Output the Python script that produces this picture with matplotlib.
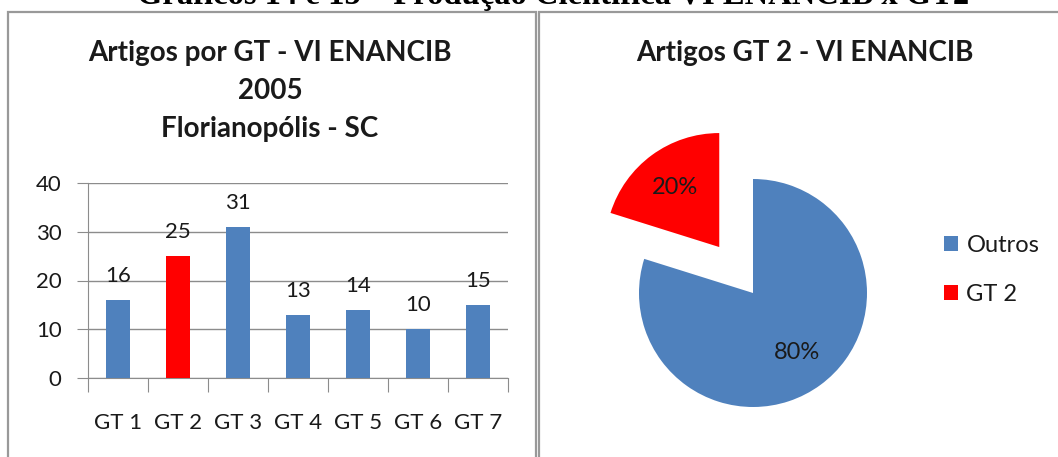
import matplotlib.pyplot as plt
from matplotlib.patches import Rectangle

# data
grupos = ["GT 1", "GT 2", "GT 3", "GT 4", "GT 5", "GT 6", "GT 7"]
artigos = [16, 25, 31, 13, 14, 10, 15]
pie_labels = ["Outros", "GT 2"]
pie_values = [99, 25]

BLUE = "#4f81bd"
RED = "#ff0000"
GRID = "#8c8c8c"
FONT = "Lato"

W, H = 1058, 457
fig = plt.figure(figsize=(W / 100, H / 100), dpi=100)


def px_axes(x0, y0, x1, y1):
    # pixel box (top-left origin) -> figure axes
    return fig.add_axes([x0 / W, 1 - y1 / H, (x1 - x0) / W, (y1 - y0) / H])


# panel borders (grey frames)
for (x0, x1) in [(8, 536), (539, 1070)]:
    fig.patches.append(Rectangle((x0 / W, -0.05), (x1 - x0) / W, 1 - 11.5 / H + 0.05,
                                 transform=fig.transFigure, fill=False,
                                 edgecolor="#999999", linewidth=1.6))

# top caption, cut off by the page edge
fig.text(553 / W, 1 - 4 / H, "Gráficos 14 e 15 – Produção Científica VI ENANCIB x GT2",
         ha="center", va="baseline", fontsize=23.5, fontweight="bold",
         family="Liberation Serif")

# bar chart
ax = px_axes(88, 183, 508, 378)
colors = [RED if g == "GT 2" else BLUE for g in grupos]
x = list(range(len(grupos)))
bars = ax.bar(x, artigos, width=0.4, color=colors, zorder=3)
for b, v in zip(bars, artigos):
    ax.text(b.get_x() + b.get_width() / 2, v + 3.7, str(v), ha="center", va="baseline",
            fontsize=16, family=FONT, color="#1a1a1a")
ax.set_ylim(0, 40)
ax.set_xlim(-0.5, len(grupos) - 0.5)
ax.set_yticks(range(0, 41, 10))
ax.yaxis.grid(True, color=GRID, linewidth=1, zorder=0)
for s in ["top", "right"]:
    ax.spines[s].set_visible(False)
ax.spines["left"].set_color(GRID)
ax.spines["bottom"].set_color(GRID)
ax.set_xticks([-0.5 + i for i in range(len(grupos) + 1)])
ax.set_xticklabels([])
ax.set_xticks(x, minor=True)
ax.set_xticklabels(grupos, minor=True, fontsize=16, family=FONT, color="#1a1a1a")
ax.tick_params(axis="x", which="major", length=10, color=GRID)
ax.tick_params(axis="x", which="minor", length=0, pad=25)
ax.tick_params(axis="y", length=8, color=GRID, labelsize=16, pad=11, labelcolor="#1a1a1a")
for t in ax.get_yticklabels():
    t.set_family(FONT)

for label, y in zip(["Artigos por GT - VI ENANCIB", "2005", "Florianopólis - SC"],
                    [53, 91, 129]):
    fig.text(270 / W, 1 - y / H, label, ha="center", va="center", fontsize=20,
             fontweight="bold", family=FONT, color="#1a1a1a")

# pie chart
pax = px_axes(753 - 171, 293 - 171, 753 + 171, 293 + 171)
wedges, _, autotexts = pax.pie(pie_values, colors=[BLUE, RED], startangle=90,
                               counterclock=False, explode=[0, 0.5],
                               autopct="%1.0f%%", pctdistance=0.65,
                               textprops={"fontsize": 17, "family": FONT,
                                          "color": "#1a1a1a"})
pax.set_xlim(-1.5, 1.5)
pax.set_ylim(-1.5, 1.5)
pax.set_aspect("equal")
pax.axis("off")

fig.text(805 / W, 1 - 53 / H, "Artigos GT 2 - VI ENANCIB", ha="center", va="center",
         fontsize=20, fontweight="bold", family=FONT, color="#1a1a1a")

leg = fig.legend(wedges, pie_labels, loc="center left",
                 bbox_to_anchor=(944 / W, 1 - 270 / H), frameon=False,
                 prop={"family": FONT, "size": 17}, borderpad=0, borderaxespad=0,
                 handlelength=0.6, handleheight=0.6, handletextpad=0.35,
                 labelspacing=1.2)
for t in leg.get_texts():
    t.set_color("#1a1a1a")

fig.savefig("out.png", dpi=100, facecolor="white")
